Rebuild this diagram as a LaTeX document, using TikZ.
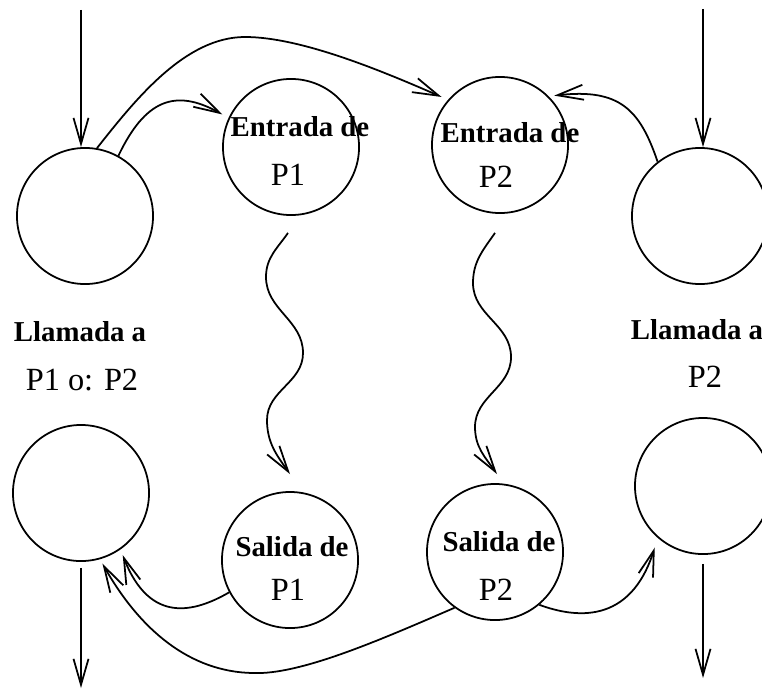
\documentclass[tikz,border=0pt]{standalone}
\usepackage{fontspec}
\setmainfont{Liberation Serif}
\usetikzlibrary{arrows.meta}

\begin{document}
\begin{tikzpicture}[
  x=0.01cm, y=0.01cm,
  >={Straight Barb[length=2.6mm,width=1.5mm]},
  line width=0.5pt,
  state/.style={draw, circle, minimum size=1.36cm, inner sep=0pt},
  tag/.style={font=\fontsize{8.2}{9}\selectfont\bfseries},
  proc/.style={font=\fontsize{9.2}{11}\selectfont}
  ]
\useasboundingbox (0,0) rectangle (762,-691);
% llamadas
\node [state] (inA) at (85,-216) {};
\node [state] (outA) at (81,-493) {};
\node [state] (inB) at (700,-216) {};
\node [state] (outB) at (703,-486) {};
% entradas y salidas
\node [state] (entP1) at (291,-147) {};
\node [state] (entP2) at (500,-145) {};
\node [state] (salP1) at (290,-560) {};
\node [state] (salP2) at (495,-552) {};
% textos
\node [tag] (llA) at (80,-332) {Llamada a};
\node [proc] (nA) at (82,-380) {P1 o: P2};
\node [tag] (llB) at (697,-330) {Llamada a};
\node [proc] (nB) at (705,-377) {P2};
\node [tag] (tEnt1) at (300,-127) {Entrada de};
\node [proc] (tP1a) at (288,-175) {P1};
\node [tag] (tEnt2) at (510,-133) {Entrada de};
\node [proc] (tP2a) at (496,-177) {P2};
\node [tag] (tSal1) at (292,-547) {Salida de};
\node [proc] (tP1b) at (288,-590) {P1};
\node [tag] (tSal2) at (499,-542) {Salida de};
\node [proc] (tP2b) at (496,-590) {P2};
% flechas verticales
\coordinate (topA) at (81,-10);
\coordinate (topB) at (703,-9);
\coordinate (botA) at (81,-688);
\coordinate (botB) at (703,-678);
\draw [->] (topA) -- (topA |- inA.north);
\draw [->] (topB) -- (topB |- inB.north);
\draw [->] ([shift={(0,-6)}]outA.south) -- (botA);
\draw [->] ([shift={(0,-9)}]outB.south) -- (botB);
% llamadas a las entradas
\draw [->, shorten >=0.7mm] (inA.61) .. controls (145,-100) and (175,-88) .. (entP1.155);
\draw [->, shorten >=0.7mm] (inA.80) .. controls (135,-100) and (185,-37) .. (245,-37)
  .. controls (300,-37) and (380,-70) .. (entP2.139);
\draw [->, shorten >=0.55mm] (inB.128) .. controls (640,-110) and (620,-88) .. (entP2.45);
% ejecucion
\draw [->] ([shift={(-3,-17)}]entP1.south) to[out=235,in=90] (266,-277)
  to[out=270,in=90] (303,-353) to[out=270,in=90] (267,-420)
  to[out=270,in=125] ([shift={(0,17)}]salP1.north);
\draw [->] ([shift={(-5,-19)}]entP2.south) to[out=235,in=90] (473,-283)
  to[out=270,in=90] (511,-357) to[out=270,in=90] (475,-427)
  to[out=270,in=125] ([shift={(2,9)}]salP2.north);
% retornos
\draw [->, shorten >=0.6mm] (salP1.208) .. controls (195,-612) and (150,-625) .. (outA.305);
\draw [->, shorten >=0.5mm] (salP2.234) .. controls (380,-640) and (300,-675) .. (253,-673)
  .. controls (190,-672) and (140,-630) .. (outA.286);
\draw [->, shorten >=1mm] (salP2.310) .. controls (575,-618) and (630,-625) .. (outB.229);
\end{tikzpicture}
\end{document}
